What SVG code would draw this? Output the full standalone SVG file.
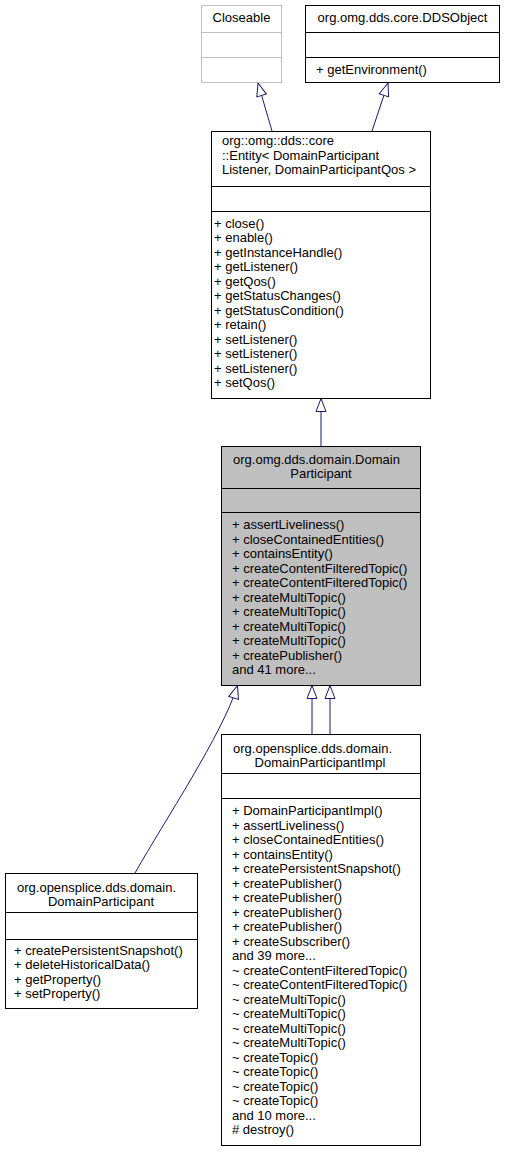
<svg xmlns="http://www.w3.org/2000/svg" width="505" height="1153" viewBox="0 0 505 1153">
<style>
text{font-family:"Liberation Sans",Arial,Helvetica,sans-serif;font-size:13px;fill:#000}
.m{text-anchor:middle}
.box{fill:#fff;stroke:#000;stroke-width:1}
.gray{fill:#fff;stroke:#bfbfbf;stroke-width:1}
.sel{fill:#bfbfbf;stroke:#000;stroke-width:1}
.ln{stroke:#000;stroke-width:1}
.lg{stroke:#bfbfbf;stroke-width:1}
.edge{fill:none;stroke:#191970;stroke-width:1;marker-end:url(#tri)}
</style>
<defs>
<marker id="tri" markerUnits="userSpaceOnUse" markerWidth="16" markerHeight="14" viewBox="-1 -1 16 14" refX="13" refY="5" orient="auto">
<path d="M0,0 L13,5 L0,10 Z" fill="#fff" stroke="#191970" stroke-width="1"/>
</marker>
</defs>

<g id="connectors">
<path class="edge" d="M272,131 L258,83"/>
<path class="edge" d="M372,131 L388,83"/>
<path class="edge" d="M321,446 L321,398.5"/>
<path class="edge" d="M135,873 C165,820 222,735 237.5,685.5"/>
<path class="edge" d="M312,734 L312,685.5"/>
<path class="edge" d="M330,734 L330,685.5"/>
</g>

<g id="Closeable">
<rect class="gray" x="201.5" y="5.5" width="80" height="77"/>
<line class="lg" x1="201.5" y1="32.5" x2="281.5" y2="32.5"/>
<line class="lg" x1="201.5" y1="57.5" x2="281.5" y2="57.5"/>
<text class="m" x="241.5" y="22">Closeable</text>
</g>

<g id="DDSObject">
<rect class="box" x="305.5" y="5.5" width="194" height="77"/>
<line class="ln" x1="305.5" y1="32.5" x2="499.5" y2="32.5"/>
<line class="ln" x1="305.5" y1="57.5" x2="499.5" y2="57.5"/>
<text class="m" x="402.5" y="22">org.omg.dds.core.DDSObject</text>
<text x="316" y="74">+ getEnvironment()</text>
</g>

<g id="Entity">
<rect class="box" x="211.5" y="131.5" width="219" height="267"/>
<line class="ln" x1="211.5" y1="186.5" x2="430.5" y2="186.5"/>
<line class="ln" x1="211.5" y1="211.5" x2="430.5" y2="211.5"/>
<text x="222" y="145">org::omg::dds::core</text>
<text x="222" y="159.5">::Entity&lt; DomainParticipant</text>
<text x="222" y="174">Listener, DomainParticipantQos &gt;</text>
<text x="214" y="227.5">+ close()</text>
<text x="214" y="242">+ enable()</text>
<text x="214" y="256.5">+ getInstanceHandle()</text>
<text x="214" y="271">+ getListener()</text>
<text x="214" y="285.5">+ getQos()</text>
<text x="214" y="300">+ getStatusChanges()</text>
<text x="214" y="314.5">+ getStatusCondition()</text>
<text x="214" y="329">+ retain()</text>
<text x="214" y="343.5">+ setListener()</text>
<text x="214" y="358">+ setListener()</text>
<text x="214" y="372.5">+ setListener()</text>
<text x="214" y="387">+ setQos()</text>
</g>

<g id="DomainParticipant">
<rect class="sel" x="221.5" y="446.5" width="199" height="239"/>
<line class="ln" x1="221.5" y1="488.5" x2="420.5" y2="488.5"/>
<line class="ln" x1="221.5" y1="512.5" x2="420.5" y2="512.5"/>
<text x="233" y="463.5">org.omg.dds.domain.Domain</text>
<text class="m" x="321" y="478">Participant</text>
<text x="232" y="529">+ assertLiveliness()</text>
<text x="232" y="543.5">+ closeContainedEntities()</text>
<text x="232" y="558">+ containsEntity()</text>
<text x="232" y="572.5">+ createContentFilteredTopic()</text>
<text x="232" y="587">+ createContentFilteredTopic()</text>
<text x="232" y="601.5">+ createMultiTopic()</text>
<text x="232" y="616">+ createMultiTopic()</text>
<text x="232" y="630.5">+ createMultiTopic()</text>
<text x="232" y="645">+ createMultiTopic()</text>
<text x="232" y="659.5">+ createPublisher()</text>
<text x="232" y="674">and 41 more...</text>
</g>

<g id="OsplDomainParticipant">
<rect class="box" x="5.5" y="873.5" width="192" height="135"/>
<line class="ln" x1="5.5" y1="912.5" x2="197.5" y2="912.5"/>
<line class="ln" x1="5.5" y1="939.5" x2="197.5" y2="939.5"/>
<text x="17" y="891.5">org.opensplice.dds.domain.</text>
<text class="m" x="101" y="906">DomainParticipant</text>
<text x="14" y="954.5">+ createPersistentSnapshot()</text>
<text x="14" y="969">+ deleteHistoricalData()</text>
<text x="14" y="983.5">+ getProperty()</text>
<text x="14" y="998">+ setProperty()</text>
</g>

<g id="DomainParticipantImpl">
<rect class="box" x="221.5" y="734.5" width="199" height="411"/>
<line class="ln" x1="221.5" y1="773.5" x2="420.5" y2="773.5"/>
<line class="ln" x1="221.5" y1="798.5" x2="420.5" y2="798.5"/>
<text x="233" y="752.5">org.opensplice.dds.domain.</text>
<text class="m" x="320" y="767">DomainParticipantImpl</text>
<text x="232" y="815">+ DomainParticipantImpl()</text>
<text x="232" y="829.5">+ assertLiveliness()</text>
<text x="232" y="844">+ closeContainedEntities()</text>
<text x="232" y="858.5">+ containsEntity()</text>
<text x="232" y="873">+ createPersistentSnapshot()</text>
<text x="232" y="887.5">+ createPublisher()</text>
<text x="232" y="902">+ createPublisher()</text>
<text x="232" y="916.5">+ createPublisher()</text>
<text x="232" y="931">+ createPublisher()</text>
<text x="232" y="945.5">+ createSubscriber()</text>
<text x="232" y="960">and 39 more...</text>
<text x="232" y="974.5">~ createContentFilteredTopic()</text>
<text x="232" y="989">~ createContentFilteredTopic()</text>
<text x="232" y="1003.5">~ createMultiTopic()</text>
<text x="232" y="1018">~ createMultiTopic()</text>
<text x="232" y="1032.5">~ createMultiTopic()</text>
<text x="232" y="1047">~ createMultiTopic()</text>
<text x="232" y="1061.5">~ createTopic()</text>
<text x="232" y="1076">~ createTopic()</text>
<text x="232" y="1090.5">~ createTopic()</text>
<text x="232" y="1105">~ createTopic()</text>
<text x="232" y="1119.5">and 10 more...</text>
<text x="232" y="1134">#&#160;destroy()</text>
</g>
</svg>
